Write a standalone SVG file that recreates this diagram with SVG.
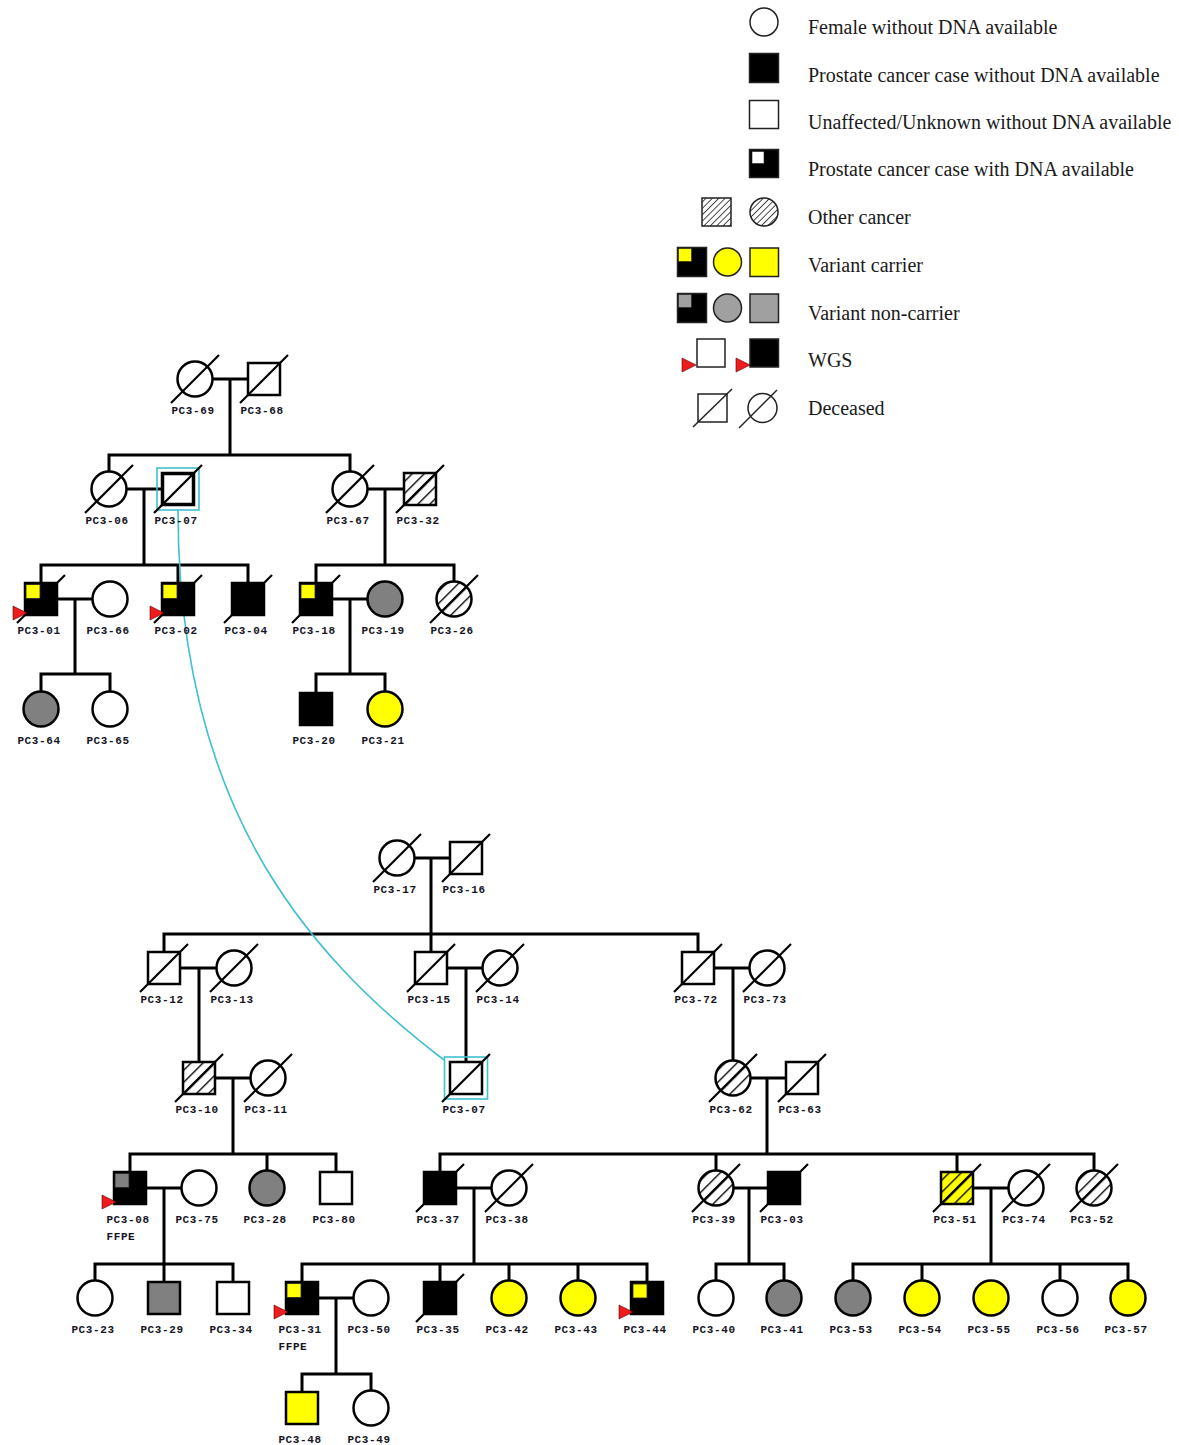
<svg xmlns="http://www.w3.org/2000/svg" width="1179" height="1445" viewBox="0 0 1179 1445">
<style>
.s{stroke:#000;stroke-width:2.5}
.w{fill:#fff}.k{fill:#000}.g{fill:#808080}.y{fill:#ffff00}.h{fill:url(#hatch)}.hy{fill:url(#hatchY)}
.q{stroke:#222;stroke-width:0.8}
.d{stroke:#000;stroke-width:2.2;fill:none}
.wgs{fill:#ee1c1c;stroke:#5a0000;stroke-width:0.6}
.lbl{font-family:"Liberation Mono","DejaVu Sans Mono",monospace;font-weight:bold;font-size:11px;letter-spacing:0.6px;fill:#14141f;text-anchor:middle}
.ffpe{font-family:"Liberation Mono","DejaVu Sans Mono",monospace;font-weight:bold;font-size:11px;letter-spacing:0.6px;fill:#14141f;text-anchor:start}
.con{fill:none;stroke:#000;stroke-width:3}
.twin{fill:none;stroke:#3fbfcf;stroke-width:1.6}
.ls{stroke:#222;stroke-width:1.5}
.lt{font-family:"Liberation Serif","Times New Roman",serif;font-size:20px;fill:#1a1a1a}
</style>
<defs>
<pattern id="hatch" patternUnits="userSpaceOnUse" width="8.5" height="8.5" patternTransform="rotate(45)">
<rect width="8.5" height="8.5" fill="#fff"/><line x1="0" y1="0" x2="0" y2="8.5" stroke="#000" stroke-width="2.7"/>
</pattern>
<pattern id="hatchY" patternUnits="userSpaceOnUse" width="8.5" height="8.5" patternTransform="rotate(45)">
<rect width="8.5" height="8.5" fill="#ffff00"/><line x1="0" y1="0" x2="0" y2="8.5" stroke="#000" stroke-width="2.7"/>
</pattern>
<pattern id="hatchL" patternUnits="userSpaceOnUse" width="4.5" height="4.5" patternTransform="rotate(45)">
<rect width="4.5" height="4.5" fill="#fff"/><line x1="0" y1="0" x2="0" y2="4.5" stroke="#000" stroke-width="1.4"/>
</pattern>
</defs>
<rect width="1179" height="1445" fill="#fff"/>

<!-- Legend -->
<g id="legend">
<circle class="ls" cx="764" cy="22" r="14" fill="#fff"/>
<text class="lt" x="808" y="34">Female without DNA available</text>
<rect class="ls" x="749.5" y="53.5" width="29" height="29" fill="#000"/>
<text class="lt" x="808" y="82">Prostate cancer case without DNA available</text>
<rect class="ls" x="749.5" y="100.5" width="29" height="28" fill="#fff"/>
<text class="lt" x="808" y="129">Unaffected/Unknown without DNA available</text>
<rect class="ls" x="749.5" y="149.5" width="29" height="28" fill="#000"/>
<rect x="752" y="151.5" width="12" height="12" fill="#fff" stroke="#222" stroke-width="0.6"/>
<text class="lt" x="808" y="176">Prostate cancer case with DNA available</text>
<rect class="ls" x="702" y="198" width="29" height="28" fill="url(#hatchL)"/>
<circle class="ls" cx="764" cy="212" r="14" fill="url(#hatchL)"/>
<text class="lt" x="808" y="224">Other cancer</text>
<rect class="ls" x="677.5" y="247.5" width="29" height="29" fill="#000"/>
<rect x="678.5" y="248.5" width="13" height="13" fill="#ffff00" stroke="#222" stroke-width="0.6"/>
<circle class="ls" cx="727.5" cy="262" r="14" fill="#ffff00"/>
<rect class="ls" x="750" y="248" width="28.5" height="28.5" fill="#ffff00"/>
<text class="lt" x="808" y="272">Variant carrier</text>
<rect class="ls" x="677.5" y="293.5" width="29" height="29" fill="#000"/>
<rect x="678.5" y="294.5" width="13" height="13" fill="#a0a0a0" stroke="#222" stroke-width="0.6"/>
<circle class="ls" cx="727.5" cy="308" r="14" fill="#a0a0a0"/>
<rect class="ls" x="750" y="294" width="28.5" height="28.5" fill="#a0a0a0"/>
<text class="lt" x="808" y="320">Variant non-carrier</text>
<rect class="ls" x="697" y="339" width="28" height="28" fill="#fff"/>
<polygon class="wgs" points="682,358 682,372 696,365"/>
<rect class="ls" x="750" y="339" width="28.5" height="28" fill="#000"/>
<polygon class="wgs" points="736,358 736,372 750,365"/>
<text class="lt" x="808" y="367">WGS</text>
<rect class="ls" x="698" y="394" width="29" height="28" fill="#fff"/>
<line class="ls" x1="693" y1="427" x2="732" y2="389"/>
<circle class="ls" cx="762.5" cy="408" r="14.5" fill="#fff"/>
<line class="ls" x1="739" y1="428" x2="777" y2="390"/>
<text class="lt" x="808" y="415">Deceased</text>
</g>

<!-- Connectors -->
<g id="connectors">
<path class="con" d="M212.5,379H248M230,379V455M109,471.5V455H350V471.5"/>
<path class="con" d="M127,489H162M144,489V565M41,583V565H248V583M178,565V583"/>
<path class="con" d="M367.5,489H404M385,489V565M316,583V565H454V581.5"/>
<path class="con" d="M57,599H92.5M75,599V674M41,691.5V674H110V691.5"/>
<path class="con" d="M332,599H367.5M350,599V674M316,693V674H385V691.5"/>
<path class="con" d="M414.5,858H450M431,858V934M164,952V934H698V952M431,934V952"/>
<path class="con" d="M180,968H216.5M199,968V1062"/>
<path class="con" d="M447,968H482.5M466,968V1062"/>
<path class="con" d="M714,968H749.5M733,968V1060.5"/>
<path class="con" d="M215,1078H250.5M233,1078V1154M130,1172V1154H336V1172M267,1154V1170.5"/>
<path class="con" d="M750.5,1078H786M767,1078V1154M440,1172V1154H1094V1170.5M716,1154V1170.5M957,1154V1172"/>
<path class="con" d="M146,1188H181.5M164,1188V1264M95,1280.5V1264H233V1282M164,1264V1282"/>
<path class="con" d="M456,1188H491.5M474,1188V1264M302,1282V1264H647V1282M440,1264V1282M509,1264V1280.5M578,1264V1280.5"/>
<path class="con" d="M733.5,1188H768M749,1188V1264M716,1280.5V1264H784V1280.5"/>
<path class="con" d="M973,1188H1008.5M991,1188V1264M853,1280.5V1264H1128V1280.5M922,1264V1280.5M1060,1264V1280.5"/>
<path class="con" d="M318,1298H353.5M336,1298V1374M302,1392V1374H371V1390.5"/>
<path class="twin" d="M178,510C178,800 300,950 444,1060"/>
</g>

<!-- Top pedigree nodes -->
<g id="PC3-69" transform="translate(195,379)"><circle class="s w" r="17.5"/><line class="d" x1="-24" y1="24" x2="24" y2="-24"/><text class="lbl" x="-2" y="35">PC3-69</text></g>
<g id="PC3-68" transform="translate(264,379)"><rect class="s w" x="-16" y="-16" width="32" height="32"/><line class="d" x1="-24" y1="24" x2="24" y2="-24"/><text class="lbl" x="-2" y="35">PC3-68</text></g>
<g id="PC3-06" transform="translate(109,489)"><circle class="s w" r="17.5"/><line class="d" x1="-24" y1="24" x2="24" y2="-24"/><text class="lbl" x="-2" y="35">PC3-06</text></g>
<g id="PC3-07a" transform="translate(178,489)"><rect class="twin" x="-21" y="-21" width="42" height="42"/><rect x="-15.5" y="-15.5" width="31" height="31" fill="#fff" stroke="#000" stroke-width="3.5"/><line class="d" x1="-24" y1="24" x2="24" y2="-24"/><text class="lbl" x="-2" y="35">PC3-07</text></g>
<g id="PC3-67" transform="translate(350,489)"><circle class="s w" r="17.5"/><line class="d" x1="-24" y1="24" x2="24" y2="-24"/><text class="lbl" x="-2" y="35">PC3-67</text></g>
<g id="PC3-32" transform="translate(420,489)"><rect class="s h" x="-16" y="-16" width="32" height="32"/><line class="d" x1="-24" y1="24" x2="24" y2="-24"/><text class="lbl" x="-2" y="35">PC3-32</text></g>
<g id="PC3-01" transform="translate(41,599)"><rect class="s k" x="-16" y="-16" width="32" height="32"/><rect class="q y" x="-15" y="-14.5" width="14" height="14"/><line class="d" x1="-24" y1="24" x2="24" y2="-24"/><polygon class="wgs" points="-28,7 -28,21 -14,14"/><text class="lbl" x="-2" y="35">PC3-01</text></g>
<g id="PC3-66" transform="translate(110,599)"><circle class="s w" r="17.5"/><text class="lbl" x="-2" y="35">PC3-66</text></g>
<g id="PC3-02" transform="translate(178,599)"><rect class="s k" x="-16" y="-16" width="32" height="32"/><rect class="q y" x="-15" y="-14.5" width="14" height="14"/><line class="d" x1="-24" y1="24" x2="24" y2="-24"/><polygon class="wgs" points="-28,7 -28,21 -14,14"/><text class="lbl" x="-2" y="35">PC3-02</text></g>
<g id="PC3-04" transform="translate(248,599)"><rect class="s k" x="-16" y="-16" width="32" height="32"/><line class="d" x1="-24" y1="24" x2="24" y2="-24"/><text class="lbl" x="-2" y="35">PC3-04</text></g>
<g id="PC3-18" transform="translate(316,599)"><rect class="s k" x="-16" y="-16" width="32" height="32"/><rect class="q y" x="-15" y="-14.5" width="14" height="14"/><line class="d" x1="-24" y1="24" x2="24" y2="-24"/><text class="lbl" x="-2" y="35">PC3-18</text></g>
<g id="PC3-19" transform="translate(385,599)"><circle class="s g" r="17.5"/><text class="lbl" x="-2" y="35">PC3-19</text></g>
<g id="PC3-26" transform="translate(454,599)"><circle class="s h" r="17.5"/><line class="d" x1="-24" y1="24" x2="24" y2="-24"/><text class="lbl" x="-2" y="35">PC3-26</text></g>
<g id="PC3-64" transform="translate(41,709)"><circle class="s g" r="17.5"/><text class="lbl" x="-2" y="35">PC3-64</text></g>
<g id="PC3-65" transform="translate(110,709)"><circle class="s w" r="17.5"/><text class="lbl" x="-2" y="35">PC3-65</text></g>
<g id="PC3-20" transform="translate(316,709)"><rect class="s k" x="-16" y="-16" width="32" height="32"/><text class="lbl" x="-2" y="35">PC3-20</text></g>
<g id="PC3-21" transform="translate(385,709)"><circle class="s y" r="17.5"/><text class="lbl" x="-2" y="35">PC3-21</text></g>

<!-- Bottom pedigree nodes -->
<g id="PC3-17" transform="translate(397,858)"><circle class="s w" r="17.5"/><line class="d" x1="-24" y1="24" x2="24" y2="-24"/><text class="lbl" x="-2" y="35">PC3-17</text></g>
<g id="PC3-16" transform="translate(466,858)"><rect class="s w" x="-16" y="-16" width="32" height="32"/><line class="d" x1="-24" y1="24" x2="24" y2="-24"/><text class="lbl" x="-2" y="35">PC3-16</text></g>
<g id="PC3-12" transform="translate(164,968)"><rect class="s w" x="-16" y="-16" width="32" height="32"/><line class="d" x1="-24" y1="24" x2="24" y2="-24"/><text class="lbl" x="-2" y="35">PC3-12</text></g>
<g id="PC3-13" transform="translate(234,968)"><circle class="s w" r="17.5"/><line class="d" x1="-24" y1="24" x2="24" y2="-24"/><text class="lbl" x="-2" y="35">PC3-13</text></g>
<g id="PC3-15" transform="translate(431,968)"><rect class="s w" x="-16" y="-16" width="32" height="32"/><line class="d" x1="-24" y1="24" x2="24" y2="-24"/><text class="lbl" x="-2" y="35">PC3-15</text></g>
<g id="PC3-14" transform="translate(500,968)"><circle class="s w" r="17.5"/><line class="d" x1="-24" y1="24" x2="24" y2="-24"/><text class="lbl" x="-2" y="35">PC3-14</text></g>
<g id="PC3-72" transform="translate(698,968)"><rect class="s w" x="-16" y="-16" width="32" height="32"/><line class="d" x1="-24" y1="24" x2="24" y2="-24"/><text class="lbl" x="-2" y="35">PC3-72</text></g>
<g id="PC3-73" transform="translate(767,968)"><circle class="s w" r="17.5"/><line class="d" x1="-24" y1="24" x2="24" y2="-24"/><text class="lbl" x="-2" y="35">PC3-73</text></g>
<g id="PC3-10" transform="translate(199,1078)"><rect class="s h" x="-16" y="-16" width="32" height="32"/><line class="d" x1="-24" y1="24" x2="24" y2="-24"/><text class="lbl" x="-2" y="35">PC3-10</text></g>
<g id="PC3-11" transform="translate(268,1078)"><circle class="s w" r="17.5"/><line class="d" x1="-24" y1="24" x2="24" y2="-24"/><text class="lbl" x="-2" y="35">PC3-11</text></g>
<g id="PC3-07b" transform="translate(466,1078)"><rect class="twin" x="-21.5" y="-21" width="43" height="42"/><rect class="s w" x="-16" y="-16" width="32" height="32"/><line class="d" x1="-24" y1="24" x2="24" y2="-24"/><text class="lbl" x="-2" y="35">PC3-07</text></g>
<g id="PC3-62" transform="translate(733,1078)"><circle class="s h" r="17.5"/><line class="d" x1="-24" y1="24" x2="24" y2="-24"/><text class="lbl" x="-2" y="35">PC3-62</text></g>
<g id="PC3-63" transform="translate(802,1078)"><rect class="s w" x="-16" y="-16" width="32" height="32"/><line class="d" x1="-24" y1="24" x2="24" y2="-24"/><text class="lbl" x="-2" y="35">PC3-63</text></g>

<g id="PC3-08" transform="translate(130,1188)"><rect class="s k" x="-16" y="-16" width="32" height="32"/><rect class="q g" x="-15" y="-14.5" width="14" height="14"/><polygon class="wgs" points="-28,7 -28,21 -14,14"/><text class="lbl" x="-2" y="35">PC3-08</text><text class="ffpe" x="-23.5" y="52">FFPE</text></g>
<g id="PC3-75" transform="translate(199,1188)"><circle class="s w" r="17.5"/><text class="lbl" x="-2" y="35">PC3-75</text></g>
<g id="PC3-28" transform="translate(267,1188)"><circle class="s g" r="17.5"/><text class="lbl" x="-2" y="35">PC3-28</text></g>
<g id="PC3-80" transform="translate(336,1188)"><rect class="s w" x="-16" y="-16" width="32" height="32"/><text class="lbl" x="-2" y="35">PC3-80</text></g>
<g id="PC3-37" transform="translate(440,1188)"><rect class="s k" x="-16" y="-16" width="32" height="32"/><line class="d" x1="-24" y1="24" x2="24" y2="-24"/><text class="lbl" x="-2" y="35">PC3-37</text></g>
<g id="PC3-38" transform="translate(509,1188)"><circle class="s w" r="17.5"/><line class="d" x1="-24" y1="24" x2="24" y2="-24"/><text class="lbl" x="-2" y="35">PC3-38</text></g>
<g id="PC3-39" transform="translate(716,1188)"><circle class="s h" r="17.5"/><line class="d" x1="-24" y1="24" x2="24" y2="-24"/><text class="lbl" x="-2" y="35">PC3-39</text></g>
<g id="PC3-03" transform="translate(784,1188)"><rect class="s k" x="-16" y="-16" width="32" height="32"/><line class="d" x1="-24" y1="24" x2="24" y2="-24"/><text class="lbl" x="-2" y="35">PC3-03</text></g>
<g id="PC3-51" transform="translate(957,1188)"><rect class="s hy" x="-16" y="-16" width="32" height="32"/><line class="d" x1="-24" y1="24" x2="24" y2="-24"/><text class="lbl" x="-2" y="35">PC3-51</text></g>
<g id="PC3-74" transform="translate(1026,1188)"><circle class="s w" r="17.5"/><line class="d" x1="-24" y1="24" x2="24" y2="-24"/><text class="lbl" x="-2" y="35">PC3-74</text></g>
<g id="PC3-52" transform="translate(1094,1188)"><circle class="s h" r="17.5"/><line class="d" x1="-24" y1="24" x2="24" y2="-24"/><text class="lbl" x="-2" y="35">PC3-52</text></g>

<g id="PC3-23" transform="translate(95,1298)"><circle class="s w" r="17.5"/><text class="lbl" x="-2" y="35">PC3-23</text></g>
<g id="PC3-29" transform="translate(164,1298)"><rect class="s g" x="-16" y="-16" width="32" height="32"/><text class="lbl" x="-2" y="35">PC3-29</text></g>
<g id="PC3-34" transform="translate(233,1298)"><rect class="s w" x="-16" y="-16" width="32" height="32"/><text class="lbl" x="-2" y="35">PC3-34</text></g>
<g id="PC3-31" transform="translate(302,1298)"><rect class="s k" x="-16" y="-16" width="32" height="32"/><rect class="q y" x="-15" y="-14.5" width="14" height="14"/><polygon class="wgs" points="-28,7 -28,21 -14,14"/><text class="lbl" x="-2" y="35">PC3-31</text><text class="ffpe" x="-23.5" y="52">FFPE</text></g>
<g id="PC3-50" transform="translate(371,1298)"><circle class="s w" r="17.5"/><text class="lbl" x="-2" y="35">PC3-50</text></g>
<g id="PC3-35" transform="translate(440,1298)"><rect class="s k" x="-16" y="-16" width="32" height="32"/><line class="d" x1="-24" y1="24" x2="24" y2="-24"/><text class="lbl" x="-2" y="35">PC3-35</text></g>
<g id="PC3-42" transform="translate(509,1298)"><circle class="s y" r="17.5"/><text class="lbl" x="-2" y="35">PC3-42</text></g>
<g id="PC3-43" transform="translate(578,1298)"><circle class="s y" r="17.5"/><text class="lbl" x="-2" y="35">PC3-43</text></g>
<g id="PC3-44" transform="translate(647,1298)"><rect class="s k" x="-16" y="-16" width="32" height="32"/><rect class="q y" x="-14" y="-14" width="14" height="14"/><polygon class="wgs" points="-28,7 -28,21 -14,14"/><text class="lbl" x="-2" y="35">PC3-44</text></g>
<g id="PC3-40" transform="translate(716,1298)"><circle class="s w" r="17.5"/><text class="lbl" x="-2" y="35">PC3-40</text></g>
<g id="PC3-41" transform="translate(784,1298)"><circle class="s g" r="17.5"/><text class="lbl" x="-2" y="35">PC3-41</text></g>
<g id="PC3-53" transform="translate(853,1298)"><circle class="s g" r="17.5"/><text class="lbl" x="-2" y="35">PC3-53</text></g>
<g id="PC3-54" transform="translate(922,1298)"><circle class="s y" r="17.5"/><text class="lbl" x="-2" y="35">PC3-54</text></g>
<g id="PC3-55" transform="translate(991,1298)"><circle class="s y" r="17.5"/><text class="lbl" x="-2" y="35">PC3-55</text></g>
<g id="PC3-56" transform="translate(1060,1298)"><circle class="s w" r="17.5"/><text class="lbl" x="-2" y="35">PC3-56</text></g>
<g id="PC3-57" transform="translate(1128,1298)"><circle class="s y" r="17.5"/><text class="lbl" x="-2" y="35">PC3-57</text></g>
<g id="PC3-48" transform="translate(302,1408)"><rect class="s y" x="-16" y="-16" width="32" height="32"/><text class="lbl" x="-2" y="35">PC3-48</text></g>
<g id="PC3-49" transform="translate(371,1408)"><circle class="s w" r="17.5"/><text class="lbl" x="-2" y="35">PC3-49</text></g>
</svg>
